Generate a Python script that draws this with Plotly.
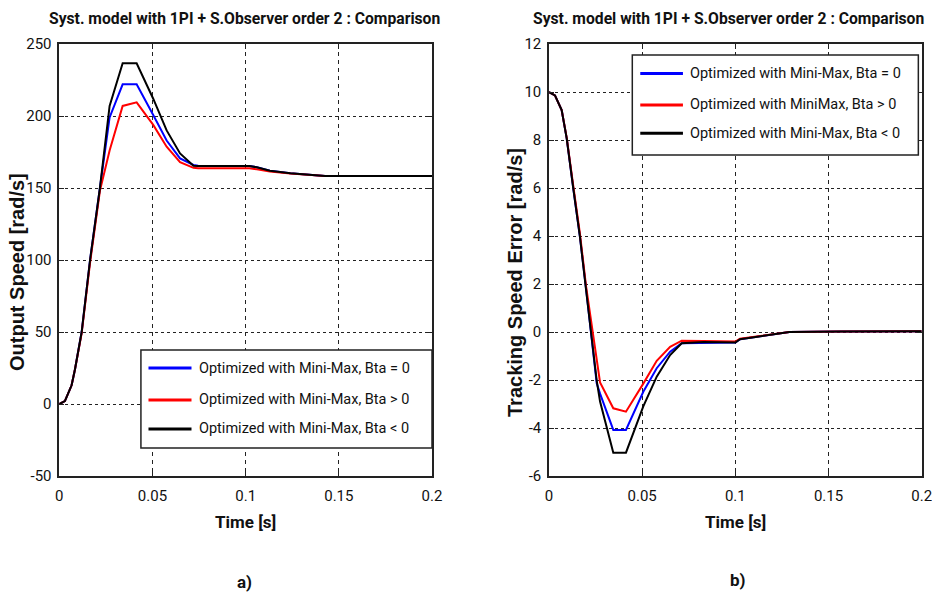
import plotly.graph_objects as go
from plotly.subplots import make_subplots

# ---------------- data ----------------
t_speed = [0, 0.003, 0.0066, 0.0084, 0.012, 0.0165, 0.0218, 0.027, 0.034, 0.0415,
           0.0504, 0.0576, 0.0648, 0.072, 0.0745, 0.102, 0.106, 0.113, 0.124, 0.1426, 0.2]
speed_bta0 = [0, 2, 13, 24, 50, 100, 150, 199, 222, 222,
              200.7, 183, 170.6, 166, 165.5, 165.3, 164.4, 162, 160.2, 158.3, 158.3]
speed_bta_pos = [0, 2, 13, 24, 49, 98, 148, 176, 207, 209.5,
                 193.8, 178.7, 168, 164, 163.7, 163.7, 163, 161.5, 160, 158.3, 158.3]
speed_bta_neg = [0, 2, 13, 24, 50, 100, 150, 207, 236.6, 236.6,
                 212, 190, 174, 165.5, 165.3, 165.3, 164.4, 162, 160.2, 158.3, 158.3]

t_err = [0, 0.0032, 0.0068, 0.0095, 0.013, 0.0166, 0.0199, 0.0256, 0.0274, 0.0345, 0.0413,
         0.0506, 0.0578, 0.065, 0.0712, 0.083, 0.1, 0.1025, 0.11, 0.117, 0.124, 0.129, 0.156, 0.2]
err_bta0 = [10, 9.86, 9.25, 8.07, 6.0, 3.97, 1.8, -2.14, -2.57, -4.08, -4.08,
            -2.49, -1.51, -0.82, -0.47, -0.45, -0.44, -0.3, -0.22, -0.14, -0.05, 0, 0.02, 0.03]
err_bta_pos = [10, 9.86, 9.25, 8.1, 6.1, 4.1, 1.9, -1.3, -2.1, -3.18, -3.32,
               -2.15, -1.2, -0.62, -0.36, -0.38, -0.4, -0.28, -0.2, -0.12, -0.04, 0, 0.02, 0.03]
err_bta_neg = [10, 9.86, 9.25, 8.07, 6.0, 3.97, 1.75, -2.03, -2.9, -5.03, -5.03,
               -3.1, -1.86, -0.96, -0.47, -0.42, -0.44, -0.3, -0.22, -0.14, -0.05, 0, 0.02, 0.03]

names_left = ["Optimized with Mini-Max, Bta = 0",
              "Optimized with Mini-Max, Bta > 0",
              "Optimized with Mini-Max, Bta < 0"]
names_right = ["Optimized with Mini-Max, Bta = 0",
               "Optimized with MiniMax, Bta > 0",
               "Optimized with Mini-Max, Bta < 0"]
colors = ["#0000ff", "#ff0000", "#000000"]

title_text = "Syst. model with 1PI + S.Observer order 2 : Comparison"
x_ticks = [0, 0.05, 0.1, 0.15, 0.2]
x_ticklabels = ["0", "0.05", "0.1", "0.15", "0.2"]
y_ticks_left = [-50, 0, 50, 100, 150, 200, 250]
y_ticklabels_left = ["-50", "0", "50", "100", "150", "200", "250"]
y_ticks_right = [-6, -4, -2, 0, 2, 4, 6, 8, 10, 12]
y_ticklabels_right = ["-6", "-4", "-2", "0", "2", "4", "6", "8", "10", "12"]

# ---------------- figure ----------------
W, H = 932, 596
fig = make_subplots(rows=1, cols=2)

narrow = "Roboto, Lato, Liberation Sans, sans-serif"
boldwide = "Liberation Sans, Arial, sans-serif"

for ys, nm, c in zip([speed_bta0, speed_bta_pos, speed_bta_neg], names_left, colors):
    fig.add_trace(go.Scatter(x=t_speed, y=ys, mode="lines", name=nm,
                             line=dict(color=c, width=2), showlegend=False), row=1, col=1)
for ys, nm, c in zip([err_bta0, err_bta_pos, err_bta_neg], names_right, colors):
    fig.add_trace(go.Scatter(x=t_err, y=ys, mode="lines", name=nm,
                             line=dict(color=c, width=2), showlegend=False), row=1, col=2)

# domains in pixels
L1, R1 = 59.3, 432.0
L2, R2 = 549.0, 921.7
TOP, BOT = 44.0, 476.0

axis_common = dict(showline=True, linecolor="#222", linewidth=1.5, mirror="ticks",
                   ticks="inside", ticklen=5, tickcolor="#222", showgrid=True,
                   gridcolor="#222", gridwidth=1, zeroline=False, automargin=False,
                   ticklabeloverflow="allow",
                   tickfont=dict(family=narrow, size=15, color="#111"))

fig.update_xaxes(**axis_common, range=[0, 0.2], tickvals=x_ticks, ticktext=x_ticklabels,
                 griddash="4px,4px", ticklabelstandoff=5)
fig.update_yaxes(**axis_common, griddash="3px,3px", ticklabelstandoff=3)
fig.update_xaxes(domain=[L1 / W, R1 / W], row=1, col=1)
fig.update_xaxes(domain=[L2 / W, R2 / W], row=1, col=2)
fig.update_yaxes(domain=[1 - BOT / H, 1 - TOP / H], range=[-50, 250], tickvals=y_ticks_left,
                 ticktext=y_ticklabels_left, row=1, col=1)
fig.update_yaxes(domain=[1 - BOT / H, 1 - TOP / H], range=[-6, 12], tickvals=y_ticks_right,
                 ticktext=y_ticklabels_right, row=1, col=2)

annotations = []
# titles
for xc in [244, 728]:
    annotations.append(dict(text=title_text, x=xc / W, y=1 - 18 / H, xref="paper",
                            yref="paper", showarrow=False, xanchor="center",
                            yanchor="middle",
                            font=dict(family=narrow, size=15.7, color="#111", weight="bold")))
# axis titles
annotations.append(dict(text="Output Speed [rad/s]", x=17 / W, y=1 - 272 / H, xref="paper",
                        yref="paper", showarrow=False, textangle=-90, xanchor="center",
                        yanchor="middle", font=dict(family=boldwide, size=20, color="#111",
                                                    weight="bold")))
annotations.append(dict(text="Tracking Speed Error [rad/s]", x=515 / W, y=1 - 283 / H,
                        xref="paper", yref="paper", showarrow=False, textangle=-90,
                        xanchor="center", yanchor="middle",
                        font=dict(family=boldwide, size=20, color="#111", weight="bold")))
for xc in [(L1 + R1) / 2, (L2 + R2) / 2]:
    annotations.append(dict(text="Time [s]", x=xc / W, y=1 - 522 / H, xref="paper",
                            yref="paper", showarrow=False, xanchor="center", yanchor="middle",
                            font=dict(family=narrow, size=17, color="#111", weight="bold")))
annotations.append(dict(text="a)", x=245 / W, y=1 - 582 / H, xref="paper", yref="paper",
                        showarrow=False, xanchor="center", yanchor="middle",
                        font=dict(family=narrow, size=17, color="#111", weight="bold")))
annotations.append(dict(text="b)", x=738 / W, y=1 - 580 / H, xref="paper", yref="paper",
                        showarrow=False, xanchor="center", yanchor="middle",
                        font=dict(family=narrow, size=17, color="#111", weight="bold")))

shapes = []


def add_legend(xref, yref, box, rows, line_x, text_x, names):
    shapes.append(dict(type="rect", xref=xref, yref=yref, x0=box[0], x1=box[1],
                       y0=box[2], y1=box[3], line=dict(color="#222", width=1.5),
                       fillcolor="white", layer="above"))
    for yy, nm, c in zip(rows, names, colors):
        shapes.append(dict(type="line", xref=xref, yref=yref, x0=line_x[0], x1=line_x[1],
                           y0=yy, y1=yy, line=dict(color=c, width=3), layer="above"))
        annotations.append(dict(text=nm, xref=xref, yref=yref, x=text_x, y=yy,
                                xanchor="left", yanchor="middle", showarrow=False,
                                font=dict(family=narrow, size=14.5, color="#111")))


add_legend("x domain", "y domain", [0.219, 1.0, 0.0648, 0.2917],
           [0.25, 0.176, 0.109], [0.2393, 0.3547], 0.3686, names_left)
add_legend("x2 domain", "y2 domain", [0.2235, 0.991, 0.743, 0.9745],
           [0.932, 0.8588, 0.7933], [0.2449, 0.3594], 0.3742, names_right)

fig.update_layout(width=W, height=H, margin=dict(l=0, r=0, t=0, b=0, autoexpand=False),
                  paper_bgcolor="white", plot_bgcolor="white",
                  annotations=annotations, shapes=shapes, showlegend=False)

fig.write_html("out.html", config={"displayModeBar": False},
               post_script="document.body.style.margin='0';"
                           "document.body.style.overflow='hidden';")
